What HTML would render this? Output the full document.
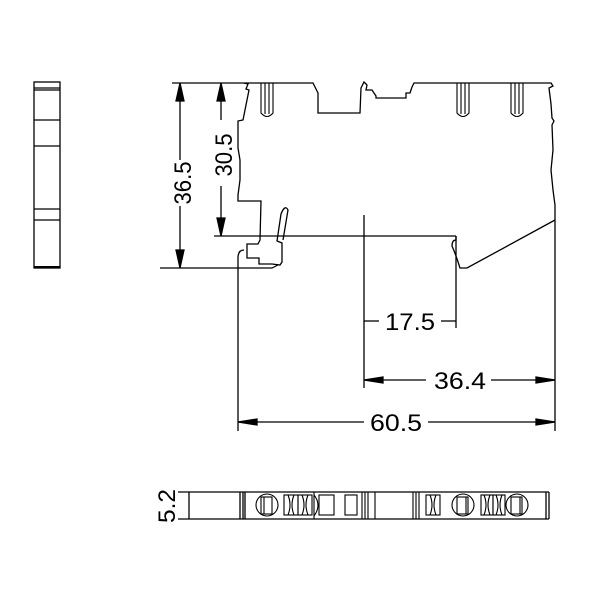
<!DOCTYPE html>
<html><head><style>html,body{margin:0;padding:0;background:#fff}svg{display:block}</style></head>
<body>
<svg width="600" height="600" viewBox="0 0 600 600" xmlns="http://www.w3.org/2000/svg" fill="none" stroke="#000" stroke-width="1.3" font-family="Liberation Sans, sans-serif">
<!-- left side view -->
<rect x="34" y="82" width="26" height="186"/>
<line x1="34" y1="88" x2="60" y2="88"/><line x1="34" y1="90" x2="60" y2="90"/>
<line x1="34" y1="120" x2="60" y2="120"/><line x1="34" y1="146" x2="60" y2="146"/>
<line x1="34" y1="209" x2="60" y2="209"/><line x1="34" y1="220" x2="60" y2="220"/>
<line x1="34" y1="267" x2="60" y2="267" stroke-width="2"/>

<!-- main profile -->
<path d="M244,83 L313,83 L318,93 L318,113 L360,113 L361,88 L364,82 L367,85 L366,90 L372,90 L376,96 L376,98 L406,98 L406,93 L410,93 L412,87 L414,83 L551,83 L553,86 L549,88 L551,104 L552,118 L554,121 L552,125 L553,150 L551,170 L553,190 L555,205 L555,268"/>
<path d="M244,83 L248,84 L246,89 L249,90 L243,120 L238,121 L238,148 L240,160 L240,180 L238,195 L238,201 L261,201 L260,240 L258,244 L247,244 L247,258 L259,258 L259,264 L272,264 L280,265 L282,262 L282,243 L277,241 L281,214 Q285,204 288,210 L283,240"/>
<path d="M244,250 Q238,250 238,258 L238,268"/>
<path d="M278,265 L272,268 L160,268" stroke-width="1.2"/>
<path d="M555,220 L467,268 L460,268 Q456,255 452,246 Q452,240 456,240 L456,236"/>
<line x1="456" y1="236" x2="456" y2="328"/>
<!-- pins -->
<g stroke-width="1.1">
<path d="M261,83 L261,113 Q267,120 273,113 L273,83"/><line x1="265" y1="83" x2="265" y2="114"/><line x1="269" y1="83" x2="269" y2="114"/>
<path d="M457,83 L457,113 Q463,120 469,113 L469,83"/><line x1="461" y1="83" x2="461" y2="114"/><line x1="465" y1="83" x2="465" y2="114"/>
<path d="M511,83 L511,113 Q517,120 523,113 L523,83"/><line x1="515" y1="83" x2="515" y2="114"/><line x1="519" y1="83" x2="519" y2="114"/>
</g>

<!-- vertical dims -->
<line x1="172" y1="83" x2="244" y2="83"/>
<line x1="214" y1="236" x2="456" y2="236"/>
<line x1="180" y1="83" x2="180" y2="160"/><line x1="180" y1="206" x2="180" y2="268"/>
<polygon points="180,83 176,101 184,101" fill="#000"/><polygon points="180,268 176,250 184,250" fill="#000"/>
<line x1="221" y1="83" x2="221" y2="120"/><line x1="221" y1="186" x2="221" y2="236"/>
<polygon points="221,83 217,101 225,101" fill="#000"/><polygon points="221,236 217,218 225,218" fill="#000"/>
<text x="0" y="0" transform="translate(191,183) rotate(-90)" font-size="24" fill="#000" stroke="none" textLength="43" lengthAdjust="spacingAndGlyphs" text-anchor="middle" font-weight="normal">36.5</text>
<text x="0" y="0" transform="translate(232,155) rotate(-90)" font-size="24" fill="#000" stroke="none" textLength="43" lengthAdjust="spacingAndGlyphs" text-anchor="middle">30.5</text>

<!-- horizontal dims -->
<line x1="364" y1="215" x2="364" y2="388"/>
<line x1="238" y1="268" x2="238" y2="431"/>
<line x1="555" y1="268" x2="555" y2="431"/>
<line x1="364" y1="321" x2="379" y2="321"/><line x1="441" y1="321" x2="456" y2="321"/>
<text x="410" y="330" font-size="24" fill="#000" stroke="none" text-anchor="middle" textLength="50" lengthAdjust="spacingAndGlyphs">17.5</text>
<line x1="364" y1="380" x2="426" y2="380"/><line x1="491" y1="380" x2="555" y2="380"/>
<polygon points="364,380 383,377 383,383" fill="#000"/><polygon points="555,380 536,377 536,383" fill="#000"/>
<text x="460" y="389" font-size="24" fill="#000" stroke="none" text-anchor="middle" textLength="52" lengthAdjust="spacingAndGlyphs">36.4</text>
<line x1="238" y1="422" x2="364" y2="422"/><line x1="428" y1="422" x2="555" y2="422"/>
<polygon points="238,422 257,419 257,425" fill="#000"/><polygon points="555,422 536,419 536,425" fill="#000"/>
<text x="396" y="431" font-size="24" fill="#000" stroke="none" text-anchor="middle" textLength="52" lengthAdjust="spacingAndGlyphs">60.5</text>

<!-- bottom view -->
<line x1="178" y1="492" x2="549" y2="492"/><line x1="178" y1="519" x2="549" y2="519"/>
<line x1="189" y1="492" x2="189" y2="519"/><line x1="549" y1="492" x2="549" y2="519"/><line x1="546" y1="492" x2="546" y2="519"/>
<line x1="240" y1="492" x2="240" y2="519"/><line x1="243" y1="492" x2="243" y2="519"/><line x1="245" y1="492" x2="245" y2="519"/>
<text x="0" y="0" transform="translate(175,506) rotate(-90)" font-size="24" fill="#000" stroke="none" text-anchor="middle" textLength="34" lengthAdjust="spacingAndGlyphs">5.2</text>
<g stroke-width="1.1">
<circle cx="267" cy="505" r="11"/><rect x="261" y="497" width="11" height="17"/><line x1="264" y1="497" x2="264" y2="514"/>
<rect x="284" y="495" width="14" height="20"/><path d="M288,495 Q292,505 288,515 M294,495 Q290,505 294,515"/>
<rect x="298" y="495" width="14" height="20"/><path d="M302,495 Q306,505 302,515 M308,495 Q304,505 308,515"/>
<path d="M314,495 Q322,505 314,516"/>
<line x1="314" y1="492" x2="314" y2="519"/>
<rect x="319" y="495" width="15" height="20"/><rect x="345" y="495" width="12" height="20"/>
<line x1="362" y1="492" x2="362" y2="519"/><line x1="365" y1="492" x2="365" y2="519"/><line x1="368" y1="492" x2="368" y2="519"/><line x1="375" y1="492" x2="375" y2="519"/>
<line x1="413" y1="492" x2="413" y2="519"/><line x1="416" y1="492" x2="416" y2="519"/><line x1="419" y1="492" x2="419" y2="519"/>
<rect x="426" y="495" width="14" height="20"/><path d="M430,495 Q434,505 430,515 M436,495 Q432,505 436,515"/>
<circle cx="463" cy="505" r="11"/><rect x="457" y="497" width="11" height="17"/><line x1="466" y1="497" x2="466" y2="514"/>
<rect x="481" y="495" width="12" height="20"/><path d="M484,495 Q488,505 484,515 M490,495 Q486,505 490,515"/>
<rect x="493" y="495" width="12" height="20"/><path d="M496,495 Q500,505 496,515 M502,495 Q498,505 502,515"/>
<circle cx="517" cy="505" r="11"/><rect x="511" y="497" width="11" height="17"/><line x1="520" y1="497" x2="520" y2="514"/>
</g>
</svg>
</body></html>
